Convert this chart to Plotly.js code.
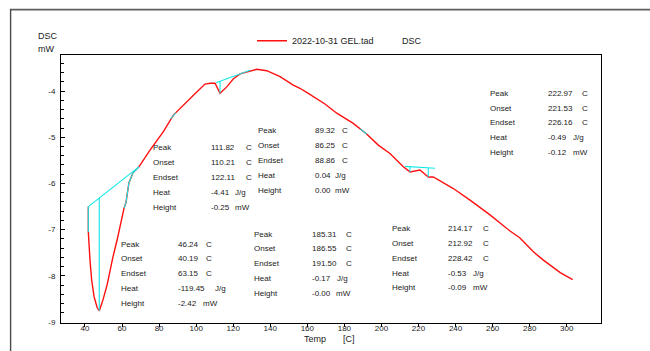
<!DOCTYPE html>
<html><head><meta charset="utf-8">
<script src="https://cdn.plot.ly/plotly-3.0.1.min.js"></script>
<style>html,body{margin:0;padding:0;background:#fff}#chart{width:650px;height:351px}</style>
</head><body><div id="chart"></div>
<script>
// ---- data ----
const temperature = [41.8, 41.8, 42.7, 43.6, 44.9, 46.5, 47.7, 49.7, 51.9, 53.5, 55.1, 57.3, 59.4, 61.1, 62.1, 63.7, 65.9, 69.1, 75.1, 82.3, 87.7, 95.8, 100.3, 104.8, 107.5, 110.2, 112.9, 116.5, 120.0, 123.7, 128.1, 132.7, 138.1, 145.3, 152.4, 156.0, 160.5, 169.5, 175.9, 184.8, 192.0, 198.3, 204.6, 211.8, 215.4, 220.8, 225.3, 228.0, 238.8, 247.8, 258.6, 269.4, 274.8, 282.0, 287.4, 291.0, 296.5, 303.2];
const dsc = [-6.50, -7.05, -7.66, -8.09, -8.45, -8.68, -8.76, -8.52, -8.20, -7.87, -7.59, -7.23, -6.83, -6.53, -6.42, -5.99, -5.77, -5.64, -5.28, -4.88, -4.52, -4.19, -4.02, -3.85, -3.83, -3.83, -4.05, -3.91, -3.74, -3.63, -3.58, -3.53, -3.56, -3.69, -3.87, -3.94, -4.05, -4.28, -4.48, -4.70, -4.93, -5.17, -5.35, -5.64, -5.75, -5.71, -5.86, -5.86, -6.11, -6.36, -6.68, -7.03, -7.18, -7.48, -7.66, -7.77, -7.93, -8.08];

const xTickValues = [40, 60, 80, 100, 120, 140, 160, 180, 200, 220, 240, 260, 280, 300];
const yTickValues = [-9, -8, -7, -6, -5, -4];
const yTickLabels = ["-9", "-8", "-7", "-6", "-5", "-4"];

const seriesName = "2022-10-31 GEL.tad";
const signalName = "DSC";

const resultLabels = ["Peak", "Onset", "Endset", "Heat", "Height"];
const resultUnits = ["C", "C", "C", "J/g", "mW"];
const peak46 = ["46.24", "40.19", "63.15", "-119.45", "-2.42"];
const peak89 = ["89.32", "86.25", "88.86", "0.04", "0.00"];
const peak111 = ["111.82", "110.21", "122.11", "-4.41", "-0.25"];
const peak185 = ["185.31", "186.55", "191.50", "-0.17", "-0.00"];
const peak214 = ["214.17", "212.92", "228.42", "-0.53", "-0.09"];
const peak222 = ["222.97", "221.53", "226.16", "-0.49", "-0.12"];

// analysis (baseline / peak marker) segments
const analysisX = [[41.8, 69.1], [41.8, 41.8], [47.7, 47.7], [110.7, 129.1], [112.9, 112.9], [212.7, 228.9], [215.4, 215.4], [225.3, 225.3], [86.3, 89.0], [188.5, 192.0]];
const analysisY = [[-6.50, -5.64], [-6.50, -7.05], [-6.31, -8.76], [-3.82, -3.55], [-3.79, -4.05], [-5.63, -5.67], [-5.64, -5.75], [-5.66, -5.86], [-4.60, -4.47], [-4.82, -4.93]];
// portions of the curve highlighted by the analysis colour
const overlayRanges = [[61.0, 69.2]];

// ---- layout helpers (pixel -> paper) ----
const L = 61, R = 601, T = 55, B = 323;
const px = p => (p - L) / (R - L);
const py = p => (B - p) / (B - T);
const FONT = "Liberation Sans, Arial, sans-serif";
const TXT = "#1a1a1a";

const cx = [], cy = [];
analysisX.forEach((xs, i) => { cx.push(...xs, null); cy.push(...analysisY[i], null); });
overlayRanges.forEach(r => {
  temperature.forEach((t, i) => { if (t >= r[0] && t <= r[1]) { cx.push(t); cy.push(dsc[i]); } });
  cx.push(null); cy.push(null);
});

const traces = [
  {x: temperature, y: dsc, type: "scatter", mode: "lines", name: seriesName,
   line: {color: "#ff1010", width: 1.4}, showlegend: true},
  {x: cx, y: cy, type: "scatter", mode: "lines", name: "analysis",
   line: {color: "#14e6e6", width: 1.1}, showlegend: false, connectgaps: false}
];

const blocks = [
  {vals: peak46,  lx: 120.7, vx: 177.7, ux: [205.7, 205.7, 205.7, 215, 203.3], y0: 244, dy: 14.8},
  {vals: peak89,  lx: 258,   vx: 315,   ux: [341.7, 341.7, 341.7, 335, 335], y0: 130.7, dy: 15},
  {vals: peak111, lx: 153,   vx: 211,   ux: [245.7, 245.7, 245.7, 234.5, 235], y0: 147.7, dy: 15},
  {vals: peak185, lx: 254,   vx: 311.7, ux: [346, 346, 346, 336.7, 336], y0: 234, dy: 14.75},
  {vals: peak214, lx: 391.7, vx: 448.3, ux: [482.7, 482.7, 482.7, 472.7, 472.7], y0: 228.3, dy: 14.9},
  {vals: peak222, lx: 490,   vx: 547.7, ux: [581.7, 581.7, 581.7, 573.3, 573.3], y0: 93.3, dy: 14.85}
];

const ann = [];
const addText = (text, x, y, size) => ann.push({
  text: text, xref: "paper", yref: "paper", x: px(x - 1), y: py(y),
  xanchor: "left", yanchor: "middle", showarrow: false, borderpad: 0,
  font: {family: FONT, size: size || 8, color: TXT}
});
blocks.forEach(b => {
  resultLabels.forEach((lab, i) => {
    const y = b.y0 + i * b.dy;
    addText(lab, b.lx, y);
    addText(b.vals[i], b.vx, y);
    addText(resultUnits[i], b.ux[i], y);
  });
});
addText("DSC", 38, 36, 9);
addText("mW", 38, 49, 9);
addText("Temp", 304, 339, 9);
addText("[C]", 343, 339, 9);
addText(signalName, 402, 40.7, 9);

const shapes = [
  {type: "line", xref: "paper", yref: "paper", x0: px(10), x1: px(660), y0: py(9.6), y1: py(9.6),
   line: {color: "#5e5e5e", width: 1.6}},
  {type: "line", xref: "paper", yref: "paper", x0: px(10.6), x1: px(10.6), y0: py(9), y1: py(360),
   line: {color: "#4a4a4a", width: 1.4}}
];

const layout = {
  width: 650, height: 351,
  margin: {l: L, r: 650 - R, t: T, b: 351 - B, pad: 0},
  paper_bgcolor: "#fff", plot_bgcolor: "#fff",
  font: {family: FONT, size: 8, color: TXT},
  showlegend: true,
  legend: {x: px(252), y: py(40.7), xanchor: "left", yanchor: "middle", orientation: "h",
           font: {family: FONT, size: 9, color: TXT}, bgcolor: "rgba(0,0,0,0)", borderwidth: 0},
  xaxis: {range: [27.05, 318.5], tickvals: xTickValues, ticks: "outside", ticklen: 3, tickcolor: "#000",
          ticklabelstandoff: -6,
          showline: true, mirror: true, linecolor: "#000", linewidth: 1, showgrid: false, zeroline: false,
          tickfont: {family: FONT, size: 8, color: TXT}, fixedrange: true},
  yaxis: {range: [-9.02, -3.22], tickvals: yTickValues, ticktext: yTickLabels, ticks: "inside", ticklen: 4,
          tickcolor: "#000", minor: {dtick: 0.2, tick0: 0, ticks: "inside", ticklen: 3, tickcolor: "#000", showgrid: false},
          showline: true, mirror: true, linecolor: "#000", linewidth: 1, showgrid: false, zeroline: false,
          ticklabelstandoff: 3, tickfont: {family: FONT, size: 8, color: TXT}, fixedrange: true},
  annotations: ann,
  shapes: shapes
};

Plotly.newPlot("chart", traces, layout, {displayModeBar: false, staticPlot: true});
</script></body></html>
